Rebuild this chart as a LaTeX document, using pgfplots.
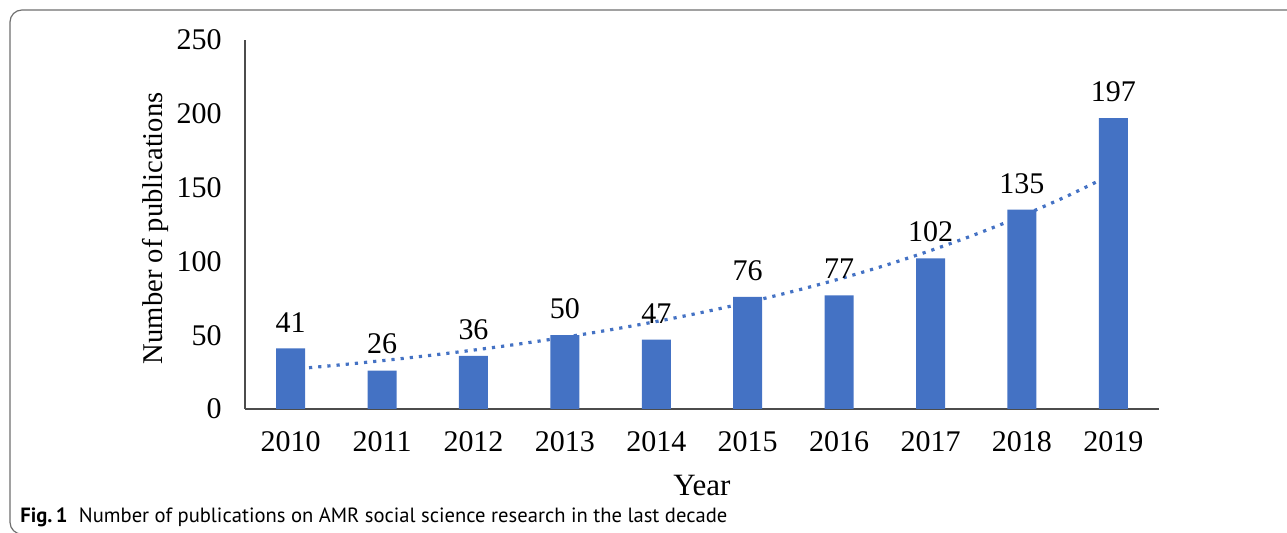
\documentclass[border=0pt]{standalone}
\usepackage{fontspec}
\setmainfont{Liberation Serif}
\newfontfamily\capfont{PT Sans}
\usepackage{pgfplots}
\pgfplotsset{compat=1.18}
\definecolor{barblue}{HTML}{4472C4}
\definecolor{framegray}{HTML}{6F6F6F}
\begin{document}
\begin{tikzpicture}
\begin{axis}[
  at={(0pt,0pt)}, anchor=south west,
  scale only axis, width=457pt, height=184.5pt,
  xmin=-0.5, xmax=9.5, ymin=0, ymax=250,
  axis x line*=bottom, axis y line*=left,
  axis line style={-, black!70, line width=0.8pt},
  xtick={0,1,2,3,4,5,6,7,8,9},
  xticklabels={2010,2011,2012,2013,2014,2015,2016,2017,2018,2019},
  ytick={0,50,100,150,200,250},
  major tick length=0pt,
  tick label style={font=\fontsize{15}{18}\selectfont},
  yticklabel style={inner sep=0pt, anchor=east, xshift=-11.5pt},
  xticklabel style={inner sep=0pt, anchor=north, yshift=-11pt},
  /pgf/number format/assume math mode=true,
  xlabel={Year}, ylabel={Number of publications},
  xlabel style={font=\fontsize{15.5}{18}\selectfont, at={(axis description cs:0.5,-0.206)}, anchor=center},
  ylabel style={font=\fontsize{14.3}{17}\selectfont, at={(axis description cs:-0.0975,0.49)}, anchor=center},
  clip=false,
]
\addplot[barblue, line width=1.6pt, dash pattern=on 1.6pt off 3pt, smooth] coordinates {
(0,26.86) (0.5,29.65) (1,32.73) (1.5,36.14) (2,39.90) (2.5,44.05) (3,48.63) (3.5,53.69) (4,59.27) (4.5,65.44) (5,72.24) (5.5,79.76) (6,88.05) (6.5,97.21) (7,107.32) (7.5,118.48) (8,130.81) (8.5,144.41) (9,159.43)};
\addplot[ybar, bar width=14.5pt, fill=barblue, draw=none,
  nodes near coords,
  every node near coord/.append style={font=\fontsize{15}{18}\selectfont, text=black, inner sep=0pt, anchor=south, yshift=8pt}]
  coordinates {(0,41) (1,26) (2,36) (3,50) (4,47) (5,76) (6,77) (7,102) (8,135) (9,197)};
\end{axis}
\node[anchor=west, inner sep=0pt, font=\capfont\fontsize{10.3}{12}\selectfont] at (-112.5pt,-54pt) {\textbf{Fig.\,1}\hspace{0.55em}Number of publications on AMR social science research in the last decade};
\draw[framegray, line width=0.6pt, rounded corners=6pt] (530pt,-62.6pt) -- (-117.5pt,-62.6pt) -- (-117.5pt,199.5pt) -- (530pt,199.5pt);
\pgfresetboundingbox
\path (-122.5pt,-62pt) rectangle (521pt,204.5pt);
\end{tikzpicture}
\end{document}
